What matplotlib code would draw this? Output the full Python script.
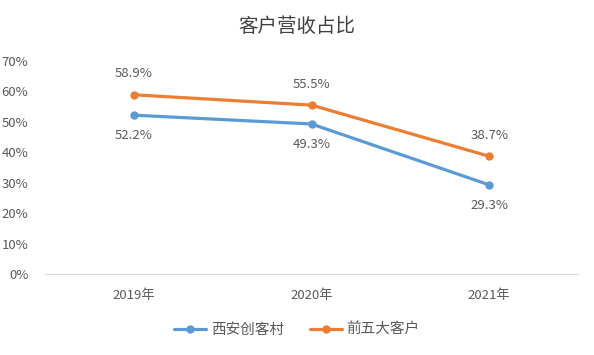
import matplotlib
matplotlib.use("Agg")
import matplotlib.pyplot as plt
from matplotlib.ticker import PercentFormatter

plt.rcParams['font.family'] = ['Noto Sans CJK SC', 'DejaVu Sans']

years = ['2019年', '2020年', '2021年']
xian = [52.2, 49.3, 29.3]
top5 = [58.9, 55.5, 38.7]
series_names = ['西安创客村', '前五大客户']

txt = '#595959'
blue = '#5B9BD5'
orange = '#ED7D31'

fig = plt.figure(figsize=(5.94, 3.55), dpi=100)
ax = fig.add_axes([45 / 594, 81 / 355, 533 / 594, 213 / 355])

x = range(len(years))
ax.plot(x, xian, color=blue, lw=2.3, marker='o', ms=5, label=series_names[0], solid_capstyle='round')
ax.plot(x, top5, color=orange, lw=2.3, marker='o', ms=5, label=series_names[1], solid_capstyle='round')

# etiquetas de datos
for i, v in enumerate(xian):
    ax.annotate(f'{v}%', (i, v), xytext=(0, -15), textcoords='offset points',
                ha='center', va='center', fontsize=9.5, color=txt)
for i, v in enumerate(top5):
    ax.annotate(f'{v}%', (i, v), xytext=(0, 15), textcoords='offset points',
                ha='center', va='center', fontsize=9.5, color=txt)

ax.set_xlim(-0.5, 2.5)
ax.set_ylim(0, 70)
ax.set_yticks(range(0, 71, 10))
ax.yaxis.set_major_formatter(PercentFormatter(decimals=0))
ax.set_xticks(list(x))
ax.set_xticklabels(years)
ax.tick_params(axis='both', length=0, labelsize=9.5, colors=txt)
ax.tick_params(axis='y', pad=12)
ax.tick_params(axis='x', pad=11)

for s in ['top', 'right', 'left']:
    ax.spines[s].set_visible(False)
ax.spines['bottom'].set_color('#D9D9D9')

fig.text(0.5, 1 - 26 / 355, '客户营收占比', ha='center', va='center',
         fontsize=14, color='#404040')

fig.legend(loc='center', bbox_to_anchor=(0.5, 1 - 330 / 355), ncol=2, frameon=False,
           fontsize=10.5, labelcolor=txt, handlelength=2.2, columnspacing=1.8, handletextpad=0.3)

fig.savefig('out.png', dpi=100)
